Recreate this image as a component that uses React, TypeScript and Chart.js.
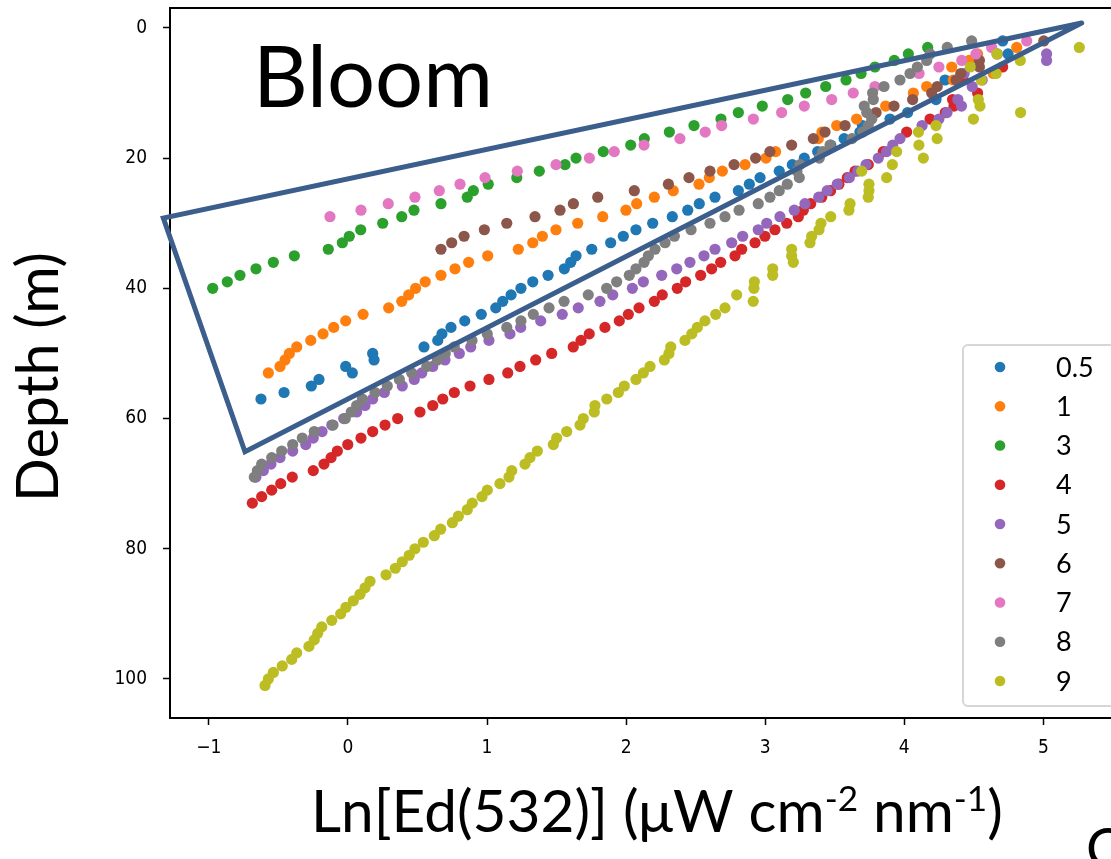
import React, { useEffect, useRef } from 'react';
import { Chart, registerables } from 'chart.js';

Chart.register(...registerables);

// ---- Data -------------------------------------------------------------
const SERIES_LABELS = ['0.5', '1', '3', '4', '5', '6', '7', '8', '9'];
const SERIES_COLORS = ['#1f77b4', '#ff7f0e', '#2ca02c', '#d62728', '#9467bd', '#8c564b', '#e377c2', '#7f7f7f', '#bcbd22'];
const X_TICKS = [-1, 0, 1, 2, 3, 4, 5];
const Y_TICKS = [0, 20, 40, 60, 80, 100];
const X_MIN = -1.279;
const X_MAX = 5.486;
const Y_MIN = -3.06;
const Y_MAX = 106.0;

// Bloom outline (Ln Ed, depth)
const TRIANGLE_X = [5.275, -1.327, -0.74, 5.275];
const TRIANGLE_Y = [-0.75, 29.2, 65.1, -0.75];

// [Ln Ed(532), depth m]
const S_05: [number, number][] = [
  [4.707, 2], [4.746, 4], [4.293, 8], [4.228, 11], [4.024, 13], [3.897, 14], [3.699, 15], [3.681, 16], [3.567, 17],
  [3.472, 18], [3.377, 19], [3.281, 20], [3.195, 21], [3.101, 22], [2.963, 23], [2.886, 24], [2.807, 25], [2.639, 26],
  [2.526, 27], [2.443, 28], [2.332, 29], [2.191, 30], [2.071, 31], [1.98, 32], [1.889, 33], [1.753, 34], [1.64, 35],
  [1.602, 36], [1.556, 37], [1.439, 38], [1.329, 39], [1.244, 40], [1.173, 41], [1.113, 42], [1.063, 43], [0.959, 44],
  [0.84, 45], [0.741, 46], [0.676, 47], [0.646, 48], [0.547, 49], [0.178, 50], [0.188, 51], [-0.016, 52], [0.032, 53],
  [-0.208, 54], [-0.263, 55], [-0.459, 56], [-0.625, 57],
];
const S_1: [number, number][] = [
  [4.808, 3], [4.527, 4], [4.467, 5], [4.341, 6], [4.64, 7], [4.352, 8], [4.161, 9], [4.065, 10], [3.866, 12],
  [3.657, 14], [3.514, 15], [3.408, 16], [3.382, 17], [3.075, 19], [3.006, 20], [2.855, 21], [2.692, 22], [2.598, 23],
  [2.524, 24], [2.339, 25], [2.203, 26], [2.076, 27], [1.999, 28], [1.832, 29], [1.652, 30], [1.496, 31], [1.398, 32],
  [1.329, 33], [1.225, 34], [1.005, 35], [0.868, 36], [0.77, 37], [0.669, 38], [0.556, 39], [0.487, 40], [0.437, 41],
  [0.387, 42], [0.293, 43], [0.109, 44], [-0.016, 45], [-0.102, 46], [-0.179, 47], [-0.267, 48], [-0.368, 49],
  [-0.421, 50], [-0.452, 51], [-0.488, 52], [-0.572, 53],
];
const S_3: [number, number][] = [
  [4.168, 3], [4.029, 4], [3.928, 5], [3.789, 6], [3.689, 7], [3.581, 8], [3.435, 9], [3.291, 10], [3.162, 11],
  [2.979, 12], [2.807, 13], [2.682, 14], [2.488, 15], [2.311, 16], [2.131, 17], [2.033, 18], [1.836, 19], [1.64, 20],
  [1.561, 21], [1.376, 22], [1.214, 23], [1.009, 24], [0.902, 25], [0.858, 26], [0.669, 27], [0.475, 28], [0.387, 29],
  [0.25, 30], [0.092, 31], [0.01, 32], [-0.04, 33], [-0.141, 34], [-0.385, 35], [-0.536, 36], [-0.661, 37],
  [-0.776, 38], [-0.867, 39], [-0.972, 40],
];
const S_4: [number, number][] = [
  [4.707, 6], [4.424, 8], [4.527, 10], [4.347, 11], [4.357, 12], [4.295, 13], [4.185, 14], [4.017, 16], [3.849, 19],
  [3.741, 21], [3.646, 22], [3.59, 23], [3.53, 24], [3.47, 25], [3.406, 26], [3.327, 27], [3.274, 28], [3.238, 29],
  [3.155, 30], [3.07, 31], [2.998, 32], [2.927, 33], [2.831, 34], [2.783, 35], [2.68, 36], [2.615, 37], [2.536, 38],
  [2.428, 39], [2.368, 40], [2.26, 41], [2.203, 42], [2.093, 43], [2.016, 44], [1.951, 45], [1.848, 46], [1.735, 47],
  [1.676, 48], [1.62, 49], [1.465, 50], [1.35, 51], [1.237, 52], [1.149, 53], [1.014, 54], [0.878, 55], [0.765, 56],
  [0.682, 57], [0.61, 58], [0.518, 59], [0.358, 60], [0.267, 61], [0.178, 62], [0.094, 63], [-0.001, 64],
  [-0.076, 65], [-0.121, 66], [-0.172, 67], [-0.249, 68], [-0.4, 69], [-0.483, 70], [-0.548, 71], [-0.62, 72],
  [-0.687, 73],
];
const S_5: [number, number][] = [
  [5.023, 4], [5.023, 5], [4.43, 7], [4.56, 8], [4.488, 9], [4.385, 11], [4.411, 12], [4.307, 13], [4.249, 14],
  [4.128, 15], [3.969, 17], [3.917, 18], [3.873, 19], [3.813, 20], [3.725, 21], [3.665, 22], [3.605, 23], [3.518, 24],
  [3.446, 25], [3.385, 26], [3.286, 27], [3.209, 28], [3.106, 29], [3.011, 30], [2.95, 31], [2.838, 32], [2.759, 33],
  [2.639, 34], [2.56, 35], [2.459, 36], [2.364, 37], [2.256, 38], [2.124, 39], [2.045, 40], [1.904, 41], [1.812, 42],
  [1.656, 43], [1.541, 44], [1.386, 45], [1.242, 46], [1.165, 47], [1.014, 48], [0.883, 49], [0.801, 50], [0.698, 51],
  [0.61, 52], [0.531, 53], [0.477, 54], [0.391, 55], [0.262, 56], [0.178, 57], [0.123, 58], [0.063, 59], [-0.03, 60],
  [-0.116, 61], [-0.186, 62], [-0.249, 63], [-0.303, 64], [-0.397, 65], [-0.488, 66], [-0.553, 67], [-0.608, 68],
  [-0.661, 69],
];
const S_6: [number, number][] = [
  [5.003, 2], [4.668, 4], [4.54, 5], [4.54, 6], [4.406, 7], [4.373, 8], [4.237, 9], [4.197, 10], [4.06, 11],
  [3.926, 12], [3.797, 13], [3.574, 15], [3.43, 16], [3.346, 17], [3.19, 18], [3.034, 19], [2.931, 20], [2.776, 21],
  [2.603, 22], [2.452, 23], [2.304, 24], [2.059, 25], [1.796, 26], [1.621, 27], [1.525, 28], [1.345, 29], [1.142, 30],
  [0.981, 31], [0.835, 32], [0.746, 33], [0.669, 34],
];
const S_7: [number, number][] = [
  [4.88, 2], [4.628, 3], [4.515, 4], [4.413, 5], [4.249, 6], [4.106, 7], [3.789, 9], [3.633, 10], [3.478, 11],
  [3.281, 12], [3.118, 13], [2.915, 14], [2.687, 15], [2.569, 16], [2.387, 17], [2.129, 18], [1.915, 19], [1.736, 20],
  [1.496, 21], [1.218, 22], [0.986, 23], [0.806, 24], [0.657, 25], [0.482, 26], [0.29, 27], [0.094, 28], [-0.129, 29],
];
const S_8: [number, number][] = [
  [4.484, 2], [4.309, 3], [4.185, 4], [4.161, 5], [4.094, 6], [4.041, 7], [3.969, 8], [3.854, 9], [3.772, 10],
  [3.777, 11], [3.712, 12], [3.73, 13], [3.766, 14], [3.741, 15], [3.7, 16], [3.624, 17], [3.466, 18], [3.413, 19],
  [3.389, 20], [3.25, 21], [3.228, 22], [3.245, 23], [3.159, 24], [3.101, 25], [3.034, 26], [2.95, 27], [2.812, 28],
  [2.711, 29], [2.603, 30], [2.467, 31], [2.347, 32], [2.28, 33], [2.208, 34], [2.16, 35], [2.129, 36], [2.071, 37],
  [2.023, 38], [1.932, 39], [1.86, 40], [1.728, 41], [1.554, 42], [1.446, 43], [1.333, 44], [1.244, 45], [1.142, 46],
  [1.002, 47], [0.892, 48], [0.765, 49], [0.7, 50], [0.643, 51], [0.567, 52], [0.459, 53], [0.37, 54], [0.283, 55],
  [0.195, 56], [0.104, 57], [0.063, 58], [0.024, 59], [-0.019, 60], [-0.107, 61], [-0.242, 62], [-0.328, 63],
  [-0.397, 64], [-0.476, 65], [-0.548, 66], [-0.62, 67], [-0.651, 68], [-0.673, 69],
];
const S_9: [number, number][] = [
  [5.258, 3], [4.666, 4], [4.834, 5], [4.474, 6], [4.66, 7], [4.554, 8], [4.532, 11], [4.544, 12], [4.836, 13],
  [4.497, 14], [4.228, 15], [4.102, 16], [4.236, 17], [4.105, 18], [3.945, 19], [4.137, 20], [3.914, 21], [3.694, 22],
  [3.873, 23], [3.746, 24], [3.746, 25], [3.741, 26], [3.61, 27], [3.602, 28], [3.471, 29], [3.401, 30], [3.387, 31],
  [3.334, 32], [3.322, 33], [3.19, 34], [3.19, 35], [3.202, 36], [3.054, 37], [3.054, 38], [2.922, 39], [2.919, 40],
  [2.795, 41], [2.914, 42], [2.711, 43], [2.644, 44], [2.567, 45], [2.512, 46], [2.472, 47], [2.423, 48], [2.321, 49],
  [2.308, 50], [2.275, 51], [2.172, 52], [2.124, 53], [2.071, 54], [1.987, 55], [1.944, 56], [1.861, 57], [1.776, 58],
  [1.771, 59], [1.692, 60], [1.669, 61], [1.573, 62], [1.501, 63], [1.477, 64], [1.362, 65], [1.309, 66], [1.273, 67],
  [1.178, 68], [1.158, 69], [1.093, 70], [1.002, 71], [0.964, 72], [0.894, 73], [0.858, 74], [0.794, 75], [0.751, 76],
  [0.667, 77], [0.621, 78], [0.542, 79], [0.482, 80], [0.441, 81], [0.391, 82], [0.341, 83], [0.274, 84], [0.159, 85],
  [0.123, 86], [0.087, 87], [0.039, 88], [-0.014, 89], [-0.052, 90], [-0.116, 91], [-0.188, 92], [-0.217, 93],
  [-0.242, 94], [-0.28, 95], [-0.368, 96], [-0.404, 97], [-0.472, 98], [-0.536, 99], [-0.572, 100], [-0.596, 101],
];
const SERIES = [S_05, S_1, S_3, S_4, S_5, S_6, S_7, S_8, S_9];

// ---- Text -----------------------------------------------------------------
const TITLE_TEXT = 'Bloom';
const Y_TITLE = 'Depth (m)';
const X_TITLE_PARTS: [string, boolean][] = [
  ['Ln[Ed(532)] (\u03bcW cm', false],
  ['-2', true],
  [' nm', false],
  ['-1', true],
  [')', false],
];
const FONT = 'Lato, "Open Sans", sans-serif';

function fitFont(ctx: CanvasRenderingContext2D, text: string, width: number) {
  ctx.font = `100px ${FONT}`;
  const w = ctx.measureText(text).width;
  return (100 * width) / w;
}

function zeroPadding(s: any) {
  s.paddingLeft = 0;
  s.paddingRight = 0;
  s.paddingTop = 0;
  s.paddingBottom = 0;
}

const overlayPlugin = {
  id: 'overlay',
  afterDraw(chart: any) {
    const ctx: CanvasRenderingContext2D = chart.ctx;
    const a = chart.chartArea;
    ctx.save();
    // top spine
    ctx.strokeStyle = '#000';
    ctx.lineWidth = 2;
    ctx.beginPath();
    ctx.moveTo(a.left - 1, a.top);
    ctx.lineTo(a.right, a.top);
    ctx.stroke();

    // Bloom label
    ctx.fillStyle = '#000';
    ctx.textBaseline = 'alphabetic';
    ctx.textAlign = 'left';
    let size = fitFont(ctx, TITLE_TEXT, 240);
    ctx.font = `${size}px ${FONT}`;
    ctx.fillText(TITLE_TEXT, 253, 107);

    // Y title
    size = fitFont(ctx, Y_TITLE, 250);
    ctx.save();
    ctx.translate(58, 377);
    ctx.rotate(-Math.PI / 2);
    ctx.textAlign = 'center';
    ctx.font = `${size}px ${FONT}`;
    ctx.fillText(Y_TITLE, 0, 0);
    ctx.restore();

    // X title with superscripts
    const SUP = 0.6;
    ctx.font = `100px ${FONT}`;
    let total = 0;
    for (const [t, sup] of X_TITLE_PARTS) total += ctx.measureText(t).width * (sup ? SUP : 1);
    const xs = (100 * 692) / total;
    let x = 311;
    const base = 832;
    ctx.textAlign = 'left';
    for (const [t, sup] of X_TITLE_PARTS) {
      const s = sup ? xs * SUP : xs;
      ctx.font = `${s}px ${FONT}`;
      ctx.fillText(t, x, sup ? base - xs * 0.36 : base);
      x += ctx.measureText(t).width;
    }
    // cut-off letter at the lower right
    ctx.font = `${xs * 0.95}px ${FONT}`;
    ctx.fillText('C', 1086, 868);

    // Legend
    const lx = 963, ly0 = 345, ly1 = 706;
    ctx.fillStyle = 'rgba(255,255,255,0.85)';
    ctx.strokeStyle = '#d6d6d6';
    ctx.lineWidth = 2;
    ctx.beginPath();
    (ctx as any).roundRect(lx, ly0, 200, ly1 - ly0, 5);
    ctx.fill();
    ctx.stroke();
    ctx.font = `27px ${FONT}`;
    ctx.textBaseline = 'middle';
    SERIES_LABELS.forEach((lab, i) => {
      const y = 367 + i * 39.25;
      ctx.fillStyle = SERIES_COLORS[i];
      ctx.beginPath();
      ctx.arc(1000, y, 5.3, 0, Math.PI * 2);
      ctx.fill();
      ctx.fillStyle = '#000';
      ctx.fillText(lab, 1056, y + 1);
    });
    ctx.restore();
  },
};

export default function App() {
  const ref = useRef<HTMLCanvasElement>(null);
  useEffect(() => {
    const datasets: any[] = SERIES.map((s, i) => ({
      type: 'scatter',
      label: SERIES_LABELS[i],
      data: s.map(([x, y]) => ({ x, y })),
      backgroundColor: SERIES_COLORS[i],
      borderColor: SERIES_COLORS[i],
      borderWidth: 0,
      pointRadius: 5.6,
      pointHoverRadius: 5.6,
      order: 9 - i,
    }));
    datasets.push({
      type: 'line',
      label: 'Bloom outline',
      data: TRIANGLE_X.map((x, i) => ({ x, y: TRIANGLE_Y[i] })),
      borderColor: '#3b5e8c',
      borderWidth: 5,
      pointRadius: 0,
      fill: false,
      tension: 0,
      clip: false,
      order: 0,
      borderJoinStyle: 'miter',
      borderCapStyle: 'round',
    });
    const tickFont = { family: '"DejaVu Sans Condensed", "DejaVu Sans", sans-serif', size: 19 };
    const chart = new Chart(ref.current!, {
      type: 'scatter',
      data: { datasets },
      options: {
        animation: false,
        responsive: false,
        devicePixelRatio: 1,
        layout: { autoPadding: false, padding: { left: 0, top: 8, right: 0, bottom: 0 } },
        plugins: { legend: { display: false }, tooltip: { enabled: false } },
        scales: {
          x: {
            type: 'linear',
            min: X_MIN,
            max: X_MAX,
            afterBuildTicks: (s: any) => {
              s.ticks = X_TICKS.map((v) => ({ value: v }));
            },
            afterFit: (s: any) => {
              s.height = 141;
              zeroPadding(s);
            },
            ticks: {
              autoSkip: false,
              maxRotation: 0,
              color: '#000',
              font: tickFont,
              padding: 12,
              callback: (v: any) => String(v).replace('-', '\u2212'),
            },
            grid: { display: true, drawOnChartArea: false, drawTicks: true, tickLength: 7, tickWidth: 1.5, tickColor: '#000' },
            border: { display: true, color: '#000', width: 2 },
          },
          y: {
            type: 'linear',
            reverse: true,
            min: Y_MIN,
            max: Y_MAX,
            afterBuildTicks: (s: any) => {
              s.ticks = Y_TICKS.map((v) => ({ value: v }));
            },
            afterFit: (s: any) => {
              s.width = 170;
              zeroPadding(s);
            },
            ticks: {
              autoSkip: false,
              color: '#000',
              font: tickFont,
              padding: 16,
              callback: (v: any) => String(v),
            },
            grid: { display: true, drawOnChartArea: false, drawTicks: true, tickLength: 7, tickWidth: 1.5, tickColor: '#000' },
            border: { display: true, color: '#000', width: 2 },
          },
        },
      },
      plugins: [overlayPlugin],
    } as any);
    return () => chart.destroy();
  }, []);
  return (
    <div style={{ position: 'fixed', left: 0, top: 0, width: 1111, height: 859, background: '#fff' }}>
      <canvas ref={ref} width={1111} height={859} style={{ width: 1111, height: 859, display: 'block' }} />
    </div>
  );
}
